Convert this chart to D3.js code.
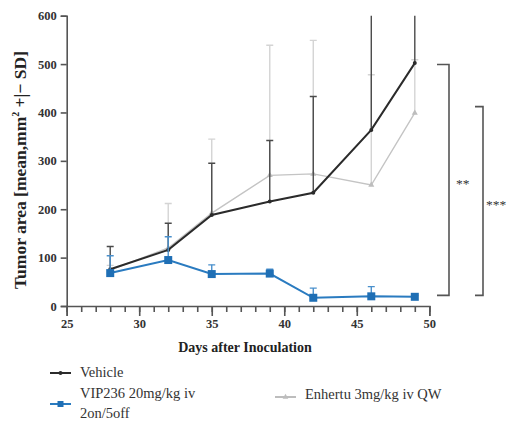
<!DOCTYPE html>
<html><head><meta charset="utf-8">
<script src="https://cdn.jsdelivr.net/npm/d3@7"></script>
<style>body{margin:0;background:#fff}svg{display:block}</style>
</head><body>
<svg id="c" width="508" height="421"></svg>
<script>
const days = [28, 32, 35, 39, 42, 46, 49];
const vehicleMean = [76, 116, 188, 216, 234, 364, 502];
const vehicleSD   = [47, 55, 107, 126, 199, 420, 300];
const vipMean = [68, 95, 66, 67, 17, 20, 19];
const vipSD   = [36, 48, 19, 9, 20, 20, 3];
const enhMean = [74, 120, 192, 270, 273, 250, 399];
const enhSD   = [10, 92, 153, 269, 276, 228, 110];
const xTicks = [25, 30, 35, 40, 45, 50];
const yTicks = [0, 100, 200, 300, 400, 500, 600];
const brackets = [
  {top: 499, bottom: 22, label: "**"},
  {top: 412, bottom: 22, label: "***"}
];

const svg = d3.select("#c");
const x = d3.scaleLinear().domain([25, 50]).range([66.7, 429.3]);
const y = d3.scaleLinear().domain([0, 600]).range([306, 15.7]);
const serif = "'Liberation Serif','Times New Roman','DejaVu Serif',serif";
const axisCol = "#555";

svg.append("clipPath").attr("id","pc").append("rect")
  .attr("x", 60).attr("y", y(600)).attr("width", 380).attr("height", y(0)-y(600)+2);

// axes
svg.append("g").attr("transform", `translate(${x(25)},0)`)
  .call(d3.axisLeft(y).tickValues(yTicks).tickSize(6).tickPadding(4));
svg.append("g").attr("transform", `translate(0,${y(0)})`)
  .call(d3.axisBottom(x).tickValues(xTicks).tickSize(10).tickPadding(3));
svg.append("g").attr("transform", `translate(0,${y(0)})`)
  .call(d3.axisBottom(x).tickValues(d3.range(25, 51)).tickSize(6).tickFormat(""))
  .call(g => g.select(".domain").remove());
svg.selectAll(".domain, .tick line").attr("stroke", axisCol).attr("stroke-width", 1.6);
svg.selectAll(".tick text").attr("font-family", serif).attr("font-size", 12.5)
  .attr("font-weight", "bold").attr("fill", "#333");

// axis titles
svg.append("text").attr("x", 245).attr("y", 352).attr("text-anchor", "middle")
  .attr("font-family", serif).attr("font-weight", "bold").attr("font-size", 14).attr("fill", "#222")
  .text("Days after Inoculation");
const yl = svg.append("text").attr("transform", "translate(26,170) rotate(-90)")
  .attr("text-anchor", "middle").attr("font-family", serif).attr("font-weight", "bold")
  .attr("font-size", 17.5).attr("fill", "#222");
yl.append("tspan").text("Tumor area [mean,mm");
yl.append("tspan").attr("font-size", 10).attr("dy", -7).text("2");
yl.append("tspan").attr("dy", 7).text(" +|\u2212 SD]");

const plot = svg.append("g").attr("clip-path", "url(#pc)");
const line = d3.line().x(d => x(d[0])).y(d => y(d[1]));

function series(mean, sd, col, errCol, width, marker) {
  const pts = days.map((d, i) => [d, mean[i], sd[i]]);
  const g = plot.append("g");
  g.selectAll("line.err").data(pts).join("line")
    .attr("x1", d => x(d[0])).attr("x2", d => x(d[0]))
    .attr("y1", d => y(d[1])).attr("y2", d => y(d[1] + d[2]))
    .attr("stroke", errCol).attr("stroke-width", 1.4);
  g.selectAll("line.cap").data(pts).join("line")
    .attr("x1", d => x(d[0]) - 3.5).attr("x2", d => x(d[0]) + 3.5)
    .attr("y1", d => y(d[1] + d[2])).attr("y2", d => y(d[1] + d[2]))
    .attr("stroke", errCol).attr("stroke-width", 1.4);
  g.append("path").datum(pts).attr("d", line).attr("fill", "none")
    .attr("stroke", col).attr("stroke-width", width);
  marker(g, pts);
  return g;
}
const sq = (g, pts, col, s) => g.selectAll("rect.m").data(pts).join("rect")
  .attr("x", d => x(d[0]) - s/2).attr("y", d => y(d[1]) - s/2)
  .attr("width", s).attr("height", s).attr("fill", col);
const tri = (g, pts, col, s) => g.selectAll("path.m").data(pts).join("path")
  .attr("d", d3.symbol(d3.symbolTriangle, s)).attr("fill", col)
  .attr("transform", d => `translate(${x(d[0])},${y(d[1])})`);
const dot = (g, pts, col, r) => g.selectAll("circle.m").data(pts).join("circle")
  .attr("cx", d => x(d[0])).attr("cy", d => y(d[1])).attr("r", r).attr("fill", col);

series(enhMean, enhSD, "#c4c4c4", "#d4d4d4", 1.4, (g, p) => tri(g, p, "#bdbdbd", 16));
series(vehicleMean, vehicleSD, "#2b2b2b", "#4a4a4a", 2, (g, p) => dot(g, p, "#2b2b2b", 2));
series(vipMean, vipSD, "#2a7bc0", "#4a90cc", 2, (g, p) => sq(g, p, "#1f6fb5", 8));

// significance brackets
const bx = [[437, 449, 456], [475, 483, 486]];
brackets.forEach((b, i) => {
  const [x0, x1, tx] = bx[i];
  svg.append("path")
    .attr("d", `M${x0},${y(b.top)}H${x1}V${y(b.bottom)}H${x0}`)
    .attr("fill", "none").attr("stroke", "#555").attr("stroke-width", 1.6);
  svg.append("text").attr("x", tx).attr("y", (y(b.top) + y(b.bottom)) / 2 + 8)
    .attr("font-family", serif).attr("font-size", 13.5).attr("fill", "#333")
    .text(b.label);
});

// legend
const leg = [
  {label: ["Vehicle"], col: "#2b2b2b", lx: 50, ly: 373, m: "dot", ty: 377},
  {label: ["VIP236 20mg/kg iv", "2on/5off"], col: "#2a7bc0", lx: 50, ly: 404, m: "sq", ty: 398},
  {label: ["Enhertu 3mg/kg iv QW"], col: "#bdbdbd", lx: 275, ly: 397, m: "tri", ty: 399}
];
leg.forEach(l => {
  const g = svg.append("g");
  g.append("line").attr("x1", l.lx).attr("x2", l.lx + 21).attr("y1", l.ly).attr("y2", l.ly)
    .attr("stroke", l.col).attr("stroke-width", 2);
  const cx = l.lx + 10.5;
  if (l.m === "dot") g.append("circle").attr("cx", cx).attr("cy", l.ly).attr("r", 2).attr("fill", l.col);
  if (l.m === "sq") g.append("rect").attr("x", cx - 3).attr("y", l.ly - 3).attr("width", 6).attr("height", 6).attr("fill", "#1f6fb5");
  if (l.m === "tri") g.append("path").attr("d", d3.symbol(d3.symbolTriangle, 14)).attr("fill", l.col)
    .attr("transform", `translate(${cx},${l.ly})`);
  l.label.forEach((t, j) => {
    g.append("text").attr("x", l.lx + 30).attr("y", l.ty + j * 20)
      .attr("font-family", serif).attr("font-size", 14.5).attr("fill", "#333").text(t);
  });
});
</script>
</body></html>
